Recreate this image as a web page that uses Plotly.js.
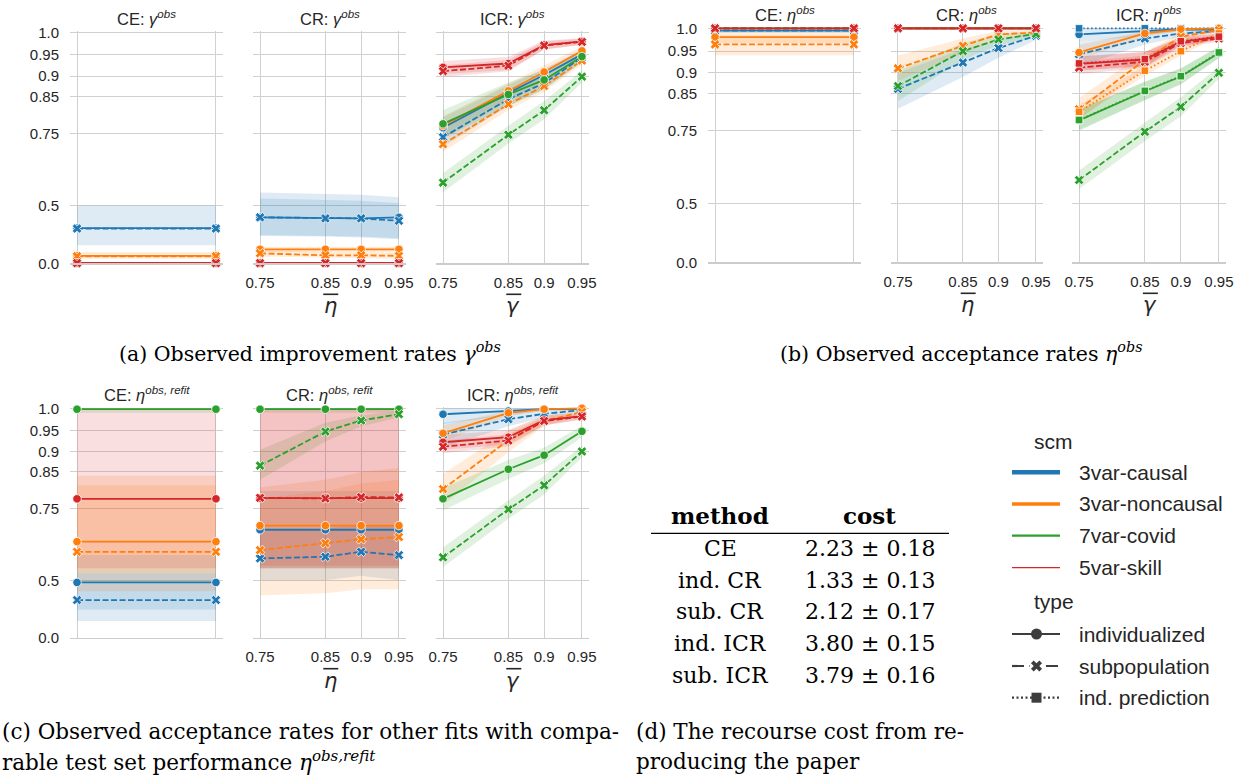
<!DOCTYPE html>
<html><head><meta charset="utf-8">
<script src="https://cdn.plot.ly/plotly-3.0.1.min.js"></script>
<style>html,body{margin:0;padding:0;background:#fff}#chart{width:1244px;height:778px}</style>
</head><body><div id="chart"></div>
<script>
// ---------------- data ----------------
const thresholds = [0.75, 0.85, 0.9, 0.95];      // eta-bar / gamma-bar
const ceX = [0.75, 0.95];                          // CE has no threshold: two end points
const scmNames = ['3var-causal', '3var-noncausal', '7var-covid', '5var-skill'];
const scmColors = ['#1f77b4', '#ff7f0e', '#2ca02c', '#d62728'];
const typeNames = ['individualized', 'subpopulation', 'ind. prediction'];
const yTicks = [0.0, 0.5, 0.75, 0.85, 0.9, 0.95, 1.0];
const yTickText = ['0.0', '0.5', '0.75', '0.85', '0.9', '0.95', '1.0'];
const xTickText = ['0.75', '0.85', '0.9', '0.95'];

// series rows: [scm index, type index, mean, CI low, CI high]
const gammaCE = [
  [0, 0, [0.39, 0.39], [0.28, 0.28], [0.50, 0.50]],
  [0, 1, [0.388, 0.388], [0.388, 0.388], [0.388, 0.388]],
  [1, 0, [0.18, 0.18], [0.14, 0.14], [0.22, 0.22]],
  [1, 1, [0.175, 0.175], [0.175, 0.175], [0.175, 0.175]],
  [2, 0, [0.0, 0.0], [0.0, 0.0], [0.0, 0.0]],
  [2, 1, [0.0, 0.0], [0.0, 0.0], [0.0, 0.0]],
  [3, 0, [0.04, 0.04], [0.02, 0.02], [0.06, 0.06]],
  [3, 1, [0.03, 0.03], [0.01, 0.01], [0.05, 0.05]]
];
const gammaCR = [
  [0, 0, [0.446, 0.441, 0.441, 0.446], [0.344, 0.34, 0.335, 0.322], [0.554, 0.55, 0.545, 0.535]],
  [0, 1, [0.446, 0.441, 0.441, 0.429], [0.35, 0.345, 0.34, 0.33], [0.53, 0.525, 0.52, 0.51]],
  [1, 0, [0.246, 0.246, 0.246, 0.246], [0.22, 0.22, 0.22, 0.22], [0.268, 0.268, 0.268, 0.268]],
  [1, 1, [0.208, 0.186, 0.186, 0.18], [0.17, 0.15, 0.15, 0.14], [0.24, 0.22, 0.22, 0.215]],
  [2, 0, [0.0, 0.0, 0.0, 0.0], [0.0, 0.0, 0.0, 0.0], [0.0, 0.0, 0.0, 0.0]],
  [2, 1, [0.0, 0.0, 0.0, 0.0], [0.0, 0.0, 0.0, 0.0], [0.0, 0.0, 0.0, 0.0]],
  [3, 0, [0.04, 0.04, 0.04, 0.04], [0.02, 0.02, 0.02, 0.02], [0.06, 0.06, 0.06, 0.06]],
  [3, 1, [0.03, 0.03, 0.03, 0.03], [0.01, 0.01, 0.01, 0.01], [0.05, 0.05, 0.05, 0.05]]
];
const gammaICR = [
  [0, 0, [0.766, 0.859, 0.903, 0.951], [0.735, 0.84, 0.888, 0.94], [0.795, 0.878, 0.918, 0.962]],
  [0, 1, [0.739, 0.843, 0.883, 0.944], [0.71, 0.825, 0.868, 0.933], [0.768, 0.861, 0.898, 0.955]],
  [1, 0, [0.772, 0.864, 0.910, 0.959], [0.745, 0.846, 0.896, 0.949], [0.798, 0.882, 0.924, 0.969]],
  [1, 1, [0.718, 0.830, 0.876, 0.937], [0.695, 0.815, 0.862, 0.927], [0.741, 0.845, 0.890, 0.947]],
  [2, 0, [0.777, 0.855, 0.891, 0.946], [0.735, 0.825, 0.868, 0.933], [0.815, 0.885, 0.915, 0.958]],
  [2, 1, [0.591, 0.746, 0.814, 0.899], [0.555, 0.72, 0.79, 0.885], [0.625, 0.772, 0.838, 0.913]],
  [3, 0, [0.921, 0.930, 0.972, 0.980], [0.905, 0.915, 0.962, 0.973], [0.936, 0.945, 0.982, 0.987]],
  [3, 1, [0.912, 0.925, 0.971, 0.979], [0.898, 0.912, 0.962, 0.972], [0.926, 0.938, 0.980, 0.986]]
];
const etaCE = [
  [0, 0, [0.995, 0.995], [0.99, 0.99], [1.0, 1.0]],
  [0, 1, [0.995, 0.995], [0.995, 0.995], [0.995, 0.995]],
  [1, 0, [0.981, 0.981], [0.968, 0.968], [0.992, 0.992]],
  [1, 1, [0.965, 0.965], [0.941, 0.941], [0.985, 0.985]],
  [2, 0, [1.0, 1.0], [1.0, 1.0], [1.0, 1.0]],
  [2, 1, [1.0, 1.0], [1.0, 1.0], [1.0, 1.0]],
  [3, 0, [1.0, 1.0], [1.0, 1.0], [1.0, 1.0]],
  [3, 1, [1.0, 1.0], [1.0, 1.0], [1.0, 1.0]]
];
const etaCR = [
  [0, 0, [1.0, 1.0, 1.0, 1.0], [1.0, 1.0, 1.0, 1.0], [1.0, 1.0, 1.0, 1.0]],
  [0, 1, [0.861, 0.924, 0.957, 0.984], [0.81, 0.89, 0.935, 0.975], [0.90, 0.955, 0.975, 0.992]],
  [1, 0, [1.0, 1.0, 1.0, 1.0], [1.0, 1.0, 1.0, 1.0], [1.0, 1.0, 1.0, 1.0]],
  [1, 1, [0.9105, 0.962, 0.987, 0.991], [0.88, 0.945, 0.977, 0.985], [0.94, 0.978, 0.995, 0.997]],
  [2, 0, [1.0, 1.0, 1.0, 1.0], [1.0, 1.0, 1.0, 1.0], [1.0, 1.0, 1.0, 1.0]],
  [2, 1, [0.868, 0.950, 0.976, 0.988], [0.83, 0.93, 0.963, 0.981], [0.905, 0.968, 0.988, 0.995]],
  [3, 0, [1.0, 1.0, 1.0, 1.0], [1.0, 1.0, 1.0, 1.0], [1.0, 1.0, 1.0, 1.0]],
  [3, 1, [1.0, 1.0, 1.0, 1.0], [1.0, 1.0, 1.0, 1.0], [1.0, 1.0, 1.0, 1.0]]
];
const etaICR = [
  [0, 0, [0.987, 0.994, 0.998, 0.997], [0.97, 0.985, 0.994, 0.993], [1.0, 1.0, 1.0, 1.0]],
  [0, 1, [0.943, 0.978, 0.989, 0.994], [0.915, 0.965, 0.982, 0.99], [0.968, 0.99, 0.996, 0.998]],
  [0, 2, [1.0, 1.0, 1.0, 1.0], [1.0, 1.0, 1.0, 1.0], [1.0, 1.0, 1.0, 1.0]],
  [1, 0, [0.947, 0.989, 0.998, 1.0], [0.93, 0.982, 0.995, 0.998], [0.963, 0.995, 1.0, 1.0]],
  [1, 1, [0.809, 0.930, 0.982, 0.996], [0.78, 0.91, 0.972, 0.992], [0.838, 0.948, 0.99, 0.999]],
  [1, 2, [0.802, 0.905, 0.950, 0.989], [0.785, 0.893, 0.94, 0.984], [0.82, 0.917, 0.96, 0.994]],
  [2, 0, [0.779, 0.855, 0.891, 0.946], [0.75, 0.832, 0.872, 0.934], [0.808, 0.878, 0.91, 0.96]],
  [2, 1, [0.593, 0.747, 0.815, 0.900], [0.56, 0.72, 0.79, 0.886], [0.626, 0.773, 0.84, 0.914]],
  [2, 2, [0.780, 0.856, 0.892, 0.947], [0.752, 0.833, 0.873, 0.935], [0.808, 0.879, 0.911, 0.96]],
  [3, 0, [0.921, 0.931, 0.971, 0.981], [0.905, 0.915, 0.962, 0.975], [0.938, 0.948, 0.981, 0.989]],
  [3, 1, [0.912, 0.926, 0.968, 0.978], [0.897, 0.912, 0.958, 0.971], [0.926, 0.94, 0.977, 0.985]],
  [3, 2, [0.922, 0.932, 0.972, 0.982], [0.906, 0.916, 0.962, 0.975], [0.938, 0.948, 0.981, 0.989]]
];
const refitCE = [
  [0, 0, [0.491, 0.491], [0.35, 0.35], [0.60, 0.60]],
  [0, 1, [0.405, 0.405], [0.27, 0.27], [0.53, 0.53]],
  [1, 0, [0.647, 0.647], [0.53, 0.53], [0.84, 0.84]],
  [1, 1, [0.612, 0.612], [0.45, 0.45], [0.815, 0.815]],
  [2, 0, [0.998, 0.998], [0.99, 0.99], [1.0, 1.0]],
  [3, 0, [0.778, 0.778], [0.55, 0.55], [1.0, 1.0]]
];
const refitCR = [
  [0, 0, [0.686, 0.686, 0.686, 0.686], [0.55, 0.55, 0.55, 0.55], [0.80, 0.80, 0.80, 0.80]],
  [0, 1, [0.588, 0.594, 0.612, 0.600], [0.50, 0.50, 0.52, 0.50], [0.68, 0.69, 0.70, 0.70]],
  [1, 0, [0.699, 0.699, 0.699, 0.699], [0.55, 0.55, 0.55, 0.55], [0.81, 0.83, 0.85, 0.86]],
  [1, 1, [0.618, 0.642, 0.655, 0.6625], [0.43, 0.44, 0.46, 0.46], [0.78, 0.80, 0.82, 0.83]],
  [2, 0, [0.998, 0.998, 0.998, 0.998], [0.99, 0.99, 0.99, 0.99], [1.0, 1.0, 1.0, 1.0]],
  [2, 1, [0.866, 0.948, 0.973, 0.987], [0.83, 0.925, 0.96, 0.98], [0.905, 0.968, 0.985, 0.994]],
  [3, 0, [0.780, 0.780, 0.780, 0.780], [0.55, 0.55, 0.55, 0.55], [1.0, 1.0, 1.0, 1.0]],
  [3, 1, [0.781, 0.779, 0.783, 0.782], [0.56, 0.56, 0.56, 0.56], [1.0, 1.0, 1.0, 1.0]]
];
const refitICR = [
  [0, 0, [0.987, 0.994, 0.998, 0.998], [0.965, 0.985, 0.994, 0.995], [1.0, 1.0, 1.0, 1.0]],
  [0, 1, [0.941, 0.976, 0.988, 0.996], [0.91, 0.96, 0.98, 0.99], [0.968, 0.988, 0.995, 1.0]],
  [1, 0, [0.944, 0.990, 0.998, 1.0], [0.925, 0.983, 0.995, 0.998], [0.962, 0.996, 1.0, 1.0]],
  [1, 1, [0.805, 0.928, 0.972, 0.992], [0.76, 0.90, 0.96, 0.985], [0.845, 0.95, 0.983, 0.997]],
  [2, 0, [0.778, 0.857, 0.892, 0.9485], [0.745, 0.832, 0.872, 0.935], [0.808, 0.88, 0.91, 0.961]],
  [2, 1, [0.592, 0.748, 0.815, 0.901], [0.555, 0.72, 0.79, 0.887], [0.627, 0.774, 0.84, 0.915]],
  [3, 0, [0.923, 0.935, 0.974, 0.983], [0.905, 0.918, 0.963, 0.976], [0.94, 0.951, 0.984, 0.99]],
  [3, 1, [0.9125, 0.927, 0.972, 0.982], [0.897, 0.913, 0.962, 0.975], [0.927, 0.941, 0.981, 0.988]]
];

// table (d)
const tableMethods = ['CE', 'ind. CR', 'sub. CR', 'ind. ICR', 'sub. ICR'];
const costMean = [2.23, 1.33, 2.12, 3.80, 3.79];
const costSd = [0.18, 0.13, 0.17, 0.15, 0.16];

// ---------------- layout geometry (pixels) ----------------
const W = 1244, H = 778;
const px = x => x / W;
const py = y => 1 - y / H;
const sq = v => v * v;   // squared axis scale used in the figure

const colsLeft = [[70, 223], [253, 406], [436, 589]];
const colsRight = [[708, 861], [891, 1043], [1072, 1226]];
const panels = [
  {data: gammaCE,  x: ceX,        col: colsLeft[0],  row: [30.7, 263.3], title: 'CE: <i>γ</i><sup><i>obs</i></sup>', ty: 18, yl: true},
  {data: gammaCR,  x: thresholds, col: colsLeft[1],  row: [30.7, 263.3], title: 'CR: <i>γ</i><sup><i>obs</i></sup>', ty: 18, xt: 'η'},
  {data: gammaICR, x: thresholds, col: colsLeft[2],  row: [30.7, 263.3], title: 'ICR: <i>γ</i><sup><i>obs</i></sup>', ty: 18, xt: 'γ'},
  {data: etaCE,    x: ceX,        col: colsRight[0], row: [26.7, 262.3], title: 'CE: <i>η</i><sup><i>obs</i></sup>', ty: 14, yl: true},
  {data: etaCR,    x: thresholds, col: colsRight[1], row: [26.7, 262.3], title: 'CR: <i>η</i><sup><i>obs</i></sup>', ty: 14, xt: 'η'},
  {data: etaICR,   x: thresholds, col: colsRight[2], row: [26.7, 262.3], title: 'ICR: <i>η</i><sup><i>obs</i></sup>', ty: 14, xt: 'γ'},
  {data: refitCE,  x: ceX,        col: colsLeft[0],  row: [406.7, 637.7], title: 'CE: <i>η</i><sup><i>obs, refit</i></sup>', ty: 394, yl: true},
  {data: refitCR,  x: thresholds, col: colsLeft[1],  row: [406.7, 637.7], title: 'CR: <i>η</i><sup><i>obs, refit</i></sup>', ty: 394, xt: 'η'},
  {data: refitICR, x: thresholds, col: colsLeft[2],  row: [406.7, 637.7], title: 'ICR: <i>η</i><sup><i>obs, refit</i></sup>', ty: 394, xt: 'γ'}
];

const symbols = ['circle', 'x', 'square'];
const sizes = [8.5, 8.5, 7.5];
const dashes = ['solid', '6px,2.5px', '1.6px,2.4px'];
const bandAlpha = 0.15;
function rgba(hex, a) {
  const n = parseInt(hex.slice(1), 16);
  return `rgba(${(n >> 16) & 255},${(n >> 8) & 255},${n & 255},${a})`;
}

const sansFont = 'Liberation Sans, Arial, sans-serif';
const serifFont = 'DejaVu Serif, serif';
const txt = '#262626';
const grid = '#d0d0d0';

const traces = [];
const layout = {
  width: W, height: H, margin: {l: 0, r: 0, t: 0, b: 0},
  paper_bgcolor: '#fff', plot_bgcolor: '#fff', showlegend: false,
  annotations: [], shapes: [], hovermode: false
};
const xRange = [sq(0.75) - 0.0172, sq(0.95) + 0.0173];

panels.forEach((p, k) => {
  const i = k + 1;
  const xa = 'x' + i, ya = 'y' + i;
  const isCE = p.x.length === 2;
  layout['xaxis' + i] = {
    domain: [px(p.col[0]), px(p.col[1])], range: xRange, anchor: ya,
    tickvals: p.x.map(sq), ticktext: xTickText, showticklabels: !isCE,
    showgrid: true, gridcolor: grid, gridwidth: 1, zeroline: false,
    showline: true, linecolor: '#cccccc', linewidth: 1.3, ticks: '',
    tickfont: {family: sansFont, size: 15, color: txt}, ticklabelstandoff: 5,
    automargin: false, fixedrange: true
  };
  layout['yaxis' + i] = {
    domain: [py(p.row[1]), py(p.row[0])], range: [0, 1.007], anchor: xa,
    tickvals: yTicks.map(sq), ticktext: yTickText, showticklabels: !!p.yl,
    showgrid: true, gridcolor: grid, gridwidth: 1, zeroline: false, showline: false, ticks: '',
    tickfont: {family: sansFont, size: 15, color: txt}, ticklabelstandoff: 10,
    automargin: false, fixedrange: true
  };
  // confidence bands first
  p.data.forEach(([s, t, m, lo, hi]) => {
    const xs = p.x.map(sq);
    traces.push({
      x: xs.concat(xs.slice().reverse()),
      y: hi.map(sq).concat(lo.map(sq).reverse()),
      xaxis: xa, yaxis: ya, mode: 'lines', fill: 'toself',
      fillcolor: rgba(scmColors[s], bandAlpha), line: {width: 0}, hoverinfo: 'skip'
    });
  });
  // mean lines with markers
  p.data.forEach(([s, t, m]) => {
    traces.push({
      x: p.x.map(sq), y: m.map(sq), xaxis: xa, yaxis: ya,
      mode: 'lines+markers', name: scmNames[s] + ' / ' + typeNames[t],
      line: {color: scmColors[s], width: 1.8, dash: dashes[t]},
      marker: {symbol: symbols[t], size: sizes[t], color: scmColors[s], line: {color: '#ffffff', width: 0.8}},
      cliponaxis: false
    });
  });
  // subplot title
  layout.annotations.push({
    text: p.title, x: px((p.col[0] + p.col[1]) / 2), y: py(p.ty), xref: 'paper', yref: 'paper',
    xanchor: 'center', yanchor: 'middle', showarrow: false,
    font: {family: sansFont, size: 16.5, color: txt}
  });
  // x-axis title: symbol with an overline
  if (p.xt) {
    const cx = (sq(0.85) + sq(0.9)) / 2;
    const frac = (cx - xRange[0]) / (xRange[1] - xRange[0]);
    const xpix = p.col[0] + frac * (p.col[1] - p.col[0]) - 13;
    const base = p.row[1];
    layout.annotations.push({
      text: '<i>' + p.xt + '</i>', x: px(xpix), y: py(base + 43), xref: 'paper', yref: 'paper',
      xanchor: 'center', yanchor: 'middle', showarrow: false,
      font: {family: 'DejaVu Sans, sans-serif', size: 21, color: txt}
    });
    layout.shapes.push({type: 'line', xref: 'paper', yref: 'paper', x0: px(xpix - 7), x1: px(xpix + 8),
      y0: py(base + 31), y1: py(base + 31), line: {color: txt, width: 1.6}});
  }
});

// ---------------- captions ----------------
function ann(text, x, y, opts) {
  layout.annotations.push(Object.assign({
    text, x: px(x), y: py(y), xref: 'paper', yref: 'paper', showarrow: false,
    xanchor: 'center', yanchor: 'middle', font: {family: serifFont, size: 20.5, color: '#000'}
  }, opts || {}));
}
const capFont = {family: serifFont, size: 21.5, color: '#000'};
ann('(a) Observed improvement rates <i>γ</i><sup><i>obs</i></sup>', 310, 352);
ann('(b) Observed acceptance rates <i>η</i><sup><i>obs</i></sup>', 961, 352);
ann('(c) Observed acceptance rates for other fits with compa-', 0, 731, {xanchor: 'left', font: capFont});
ann('rable test set performance <i>η</i><sup><i>obs,refit</i></sup>', 0, 761, {xanchor: 'left', font: capFont});
ann('(d) The recourse cost from re-', 634, 731, {xanchor: 'left', font: capFont});
ann('producing the paper', 634, 761, {xanchor: 'left', font: capFont});

// ---------------- table (d) ----------------
const tabFont = {family: serifFont, size: 22, color: '#000'};
ann('<b>method</b>', 720, 515, {font: {family: serifFont, size: 23, color: '#000'}});
ann('<b>cost</b>', 869, 515, {font: {family: serifFont, size: 23, color: '#000'}});
layout.shapes.push({type: 'line', xref: 'paper', yref: 'paper', x0: px(651), x1: px(949), y0: py(533.3), y1: py(533.3), line: {color: '#000', width: 1.2}});
const rowY = [548.3, 580, 611.5, 643.3, 675];
tableMethods.forEach((m, i) => {
  ann(m, 720, rowY[i], {font: tabFont});
  ann(costMean[i].toFixed(2) + ' ± ' + costSd[i].toFixed(2), 870, rowY[i], {font: tabFont});
});

// ---------------- legend ----------------
const legFont = {family: sansFont, size: 21, color: txt};
ann('scm', 1032, 441, {xanchor: 'left', font: legFont});
const scmY = [472.3, 504, 535.7, 567.7];
const scmW = [4.5, 3.5, 2.3, 1.3];
scmNames.forEach((n, i) => {
  layout.shapes.push({type: 'line', xref: 'paper', yref: 'paper', x0: px(1012), x1: px(1060), y0: py(scmY[i]), y1: py(scmY[i]), line: {color: scmColors[i], width: scmW[i]}});
  ann(n, 1077, scmY[i], {xanchor: 'left', font: legFont});
});
ann('type', 1032, 601.7, {xanchor: 'left', font: legFont});
const typeY = [634, 666, 697.7];
const legGray = '#3d3d3d';
const legDash = ['solid', '12px,5px', '2px,2.5px'];
typeNames.forEach((n, i) => {
  layout.shapes.push({type: 'line', xref: 'paper', yref: 'paper', x0: px(1012), x1: px(1060), y0: py(typeY[i]), y1: py(typeY[i]), line: {color: legGray, width: 2.2, dash: legDash[i]}});
  ann(n, 1077, typeY[i], {xanchor: 'left', font: legFont});
});
const mx = 1036.5;
// circle marker
layout.shapes.push({type: 'circle', xref: 'paper', yref: 'paper', x0: px(mx - 5.5), x1: px(mx + 5.5), y0: py(typeY[0] + 5.5), y1: py(typeY[0] - 5.5), fillcolor: legGray, line: {width: 0}});
// X marker
layout.shapes.push({type: 'rect', xref: 'paper', yref: 'paper', x0: px(mx - 7), x1: px(mx + 7), y0: py(typeY[1] + 2), y1: py(typeY[1] - 2), fillcolor: '#ffffff', line: {width: 0}});
layout.shapes.push({type: 'line', xref: 'paper', yref: 'paper', x0: px(mx - 4.2), x1: px(mx + 4.2), y0: py(typeY[1] - 4.2), y1: py(typeY[1] + 4.2), line: {color: legGray, width: 3.8}});
layout.shapes.push({type: 'line', xref: 'paper', yref: 'paper', x0: px(mx - 4.2), x1: px(mx + 4.2), y0: py(typeY[1] + 4.2), y1: py(typeY[1] - 4.2), line: {color: legGray, width: 3.8}});
// square marker
layout.shapes.push({type: 'rect', xref: 'paper', yref: 'paper', x0: px(mx - 5), x1: px(mx + 5), y0: py(typeY[2] + 5), y1: py(typeY[2] - 5), fillcolor: legGray, line: {width: 0}});

Plotly.newPlot('chart', traces, layout, {staticPlot: true, displayModeBar: false});
</script>
</body></html>
